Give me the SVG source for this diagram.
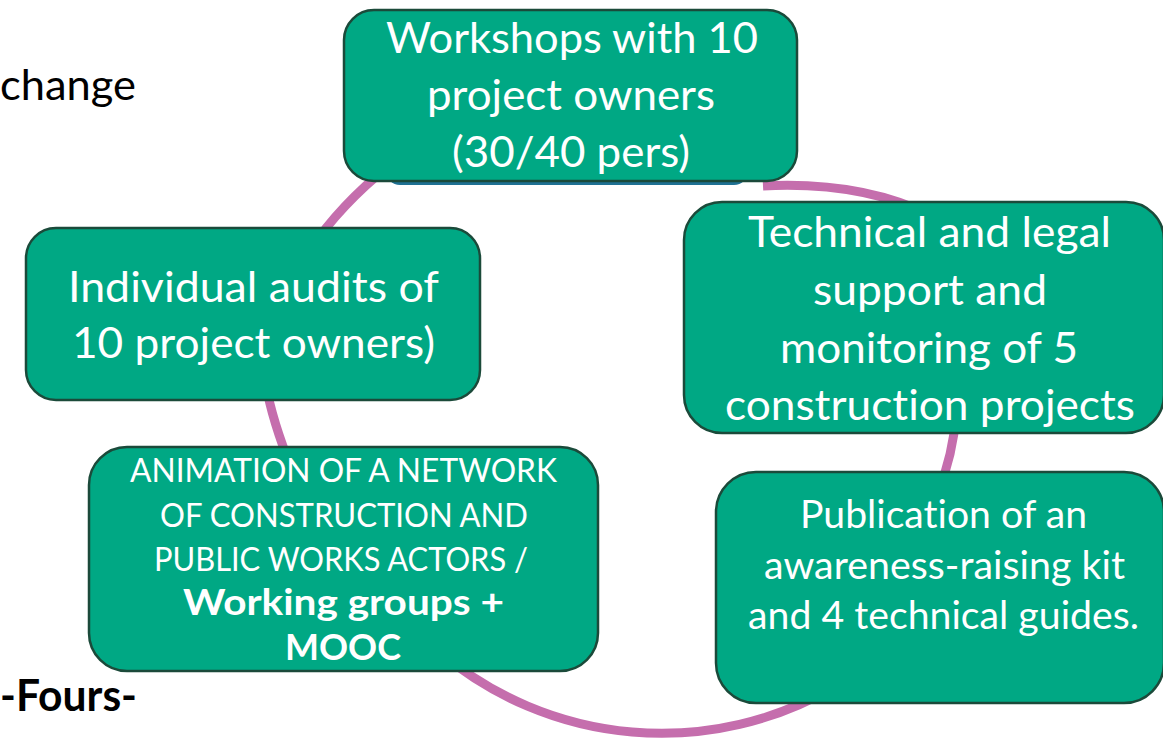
<svg xmlns="http://www.w3.org/2000/svg" width="1163" height="740" viewBox="0 0 1163 740">
<style>
.box{fill:#00A884;stroke:#1B4A3A;stroke-width:2.5}
.t{font-family:Lato,"Open Sans","Liberation Sans",sans-serif;fill:#ffffff;font-variant-ligatures:none;font-feature-settings:"liga" 0,"clig" 0}
.big{font-size:43px}
.pub{font-size:39px}
.cap{font-size:32px}
.b{font-weight:bold;font-size:37px}
.ring{fill:none;stroke:#C56EAD;stroke-width:9}
.lbl{font-family:Lato,"Open Sans","Liberation Sans",sans-serif;fill:#000000;font-size:43px;font-variant-ligatures:none}
</style>
<rect width="1163" height="740" fill="#ffffff"/>
<g id="connectors">
<path class="ring" d="M763,186 Q860,181 930,215"/>
<path class="ring" d="M956,415 Q953,455 938,492"/>
<path class="ring" d="M835,686.5 A344.4,344.4 0 0 1 440,652.5"/>
<path class="ring" d="M266,385 Q272,420 292,470"/>
<path class="ring" d="M310,250 Q340,205 390,165"/>
</g>
<text class="lbl" x="0" y="100" textLength="136" lengthAdjust="spacingAndGlyphs">change</text>
<text class="lbl" x="0" y="711" font-weight="bold" textLength="137" lengthAdjust="spacingAndGlyphs">-Fours-</text>
<g id="node-workshops">
<rect x="386" y="120" width="362" height="65" rx="14" fill="#1F7193"/>
<rect class="box" x="344" y="10" width="453" height="171" rx="30"/>
<text class="t big" x="386" y="53" textLength="372" lengthAdjust="spacingAndGlyphs">Workshops with 10</text>
<text class="t big" x="427" y="110" textLength="288" lengthAdjust="spacingAndGlyphs">project owners</text>
<text class="t big" x="452" y="167" textLength="238" lengthAdjust="spacingAndGlyphs">(30/40 pers)</text>
</g>
<g id="node-technical">
<rect class="box" x="684" y="202" width="480" height="231" rx="38"/>
<text class="t big" x="748" y="247" textLength="363" lengthAdjust="spacingAndGlyphs">Technical and legal</text>
<text class="t big" x="813" y="305" textLength="234" lengthAdjust="spacingAndGlyphs">support and</text>
<text class="t big" x="780" y="363" textLength="298" lengthAdjust="spacingAndGlyphs">monitoring of 5</text>
<text class="t big" x="725" y="420" textLength="410" lengthAdjust="spacingAndGlyphs">construction projects</text>
</g>
<g id="node-audits">
<rect class="box" x="26" y="228" width="454" height="172" rx="30"/>
<text class="t big" x="68" y="302" textLength="371" lengthAdjust="spacingAndGlyphs">Individual audits of</text>
<text class="t big" x="72" y="358" textLength="363" lengthAdjust="spacingAndGlyphs">10 project owners)</text>
</g>
<g id="node-animation">
<rect class="box" x="89" y="447" width="509" height="224" rx="38"/>
<text class="t cap" x="130" y="482" textLength="427" lengthAdjust="spacingAndGlyphs">ANIMATION OF A NETWORK</text>
<text class="t cap" x="160" y="527" textLength="368" lengthAdjust="spacingAndGlyphs">OF CONSTRUCTION AND</text>
<text class="t cap" x="154" y="571" textLength="374" lengthAdjust="spacingAndGlyphs">PUBLIC WORKS ACTORS /</text>
<text class="t b" x="183" y="615" textLength="321" lengthAdjust="spacingAndGlyphs">Working groups +</text>
<text class="t b" x="285" y="660" textLength="116" lengthAdjust="spacingAndGlyphs">MOOC</text>
</g>
<g id="node-publication">
<rect class="box" x="716" y="472" width="448" height="231" rx="40"/>
<text class="t pub" x="800" y="528" textLength="287" lengthAdjust="spacingAndGlyphs">Publication of an</text>
<text class="t pub" x="764" y="579" textLength="361" lengthAdjust="spacingAndGlyphs">awareness-raising kit</text>
<text class="t pub" x="748" y="629" textLength="391" lengthAdjust="spacingAndGlyphs">and 4 technical guides.</text>
</g>
</svg>
